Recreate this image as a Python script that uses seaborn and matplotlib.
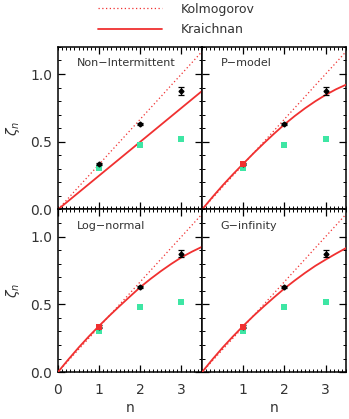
import matplotlib
matplotlib.use("Agg")
import matplotlib.pyplot as plt
import seaborn as sns
import pandas as pd
from matplotlib.ticker import MultipleLocator, FixedLocator
from matplotlib.lines import Line2D

sns.set_theme(style="white")
plt.rcParams['font.family'] = ['DejaVu Sans']
plt.rcParams['mathtext.fontset'] = 'dejavusans'

# ---- data ----
panel_names = ["Non\u2212Intermittent", "P\u2212model", "Log\u2212normal", "G\u2212infinity"]
n_obs = [1, 2, 3]
zeta_black = [0.335, 0.630, 0.875]
zeta_black_err = [0.010, 0.006, 0.028]
zeta_green = [0.305, 0.478, 0.518]

n_curve = [0.0, 0.25, 0.5, 0.75, 1.0, 1.25, 1.5, 1.75, 2.0, 2.25, 2.5, 2.75, 3.0, 3.25, 3.5]
kolmogorov = [0.0, 0.083, 0.167, 0.250, 0.333, 0.417, 0.500, 0.583, 0.667,
              0.750, 0.833, 0.917, 1.000, 1.083, 1.167]
kraichnan_nonint = [0.0, 0.0625, 0.125, 0.1875, 0.250, 0.3125, 0.375, 0.4375, 0.500,
                    0.5625, 0.625, 0.6875, 0.750, 0.8125, 0.875]
kraichnan_pmodel = [0.0, 0.091, 0.178, 0.260, 0.338, 0.415, 0.489, 0.560, 0.628,
                    0.690, 0.747, 0.799, 0.846, 0.887, 0.922]
kraichnan_lognormal = [0.0, 0.092, 0.180, 0.263, 0.341, 0.416, 0.488, 0.558, 0.627,
                       0.688, 0.745, 0.798, 0.847, 0.888, 0.925]
kraichnan_ginf = [0.0, 0.093, 0.181, 0.263, 0.341, 0.415, 0.485, 0.552, 0.617,
                  0.676, 0.732, 0.784, 0.830, 0.874, 0.916]
model_curves = [kraichnan_nonint, kraichnan_pmodel, kraichnan_lognormal, kraichnan_ginf]
red_marker_n = [1]
red_marker_zeta = [0.336]

x_ticks_left = [0, 1, 2, 3]
x_ticks_right = [1, 2, 3]
y_ticks = [0.0, 0.5, 1.0]

RED = "#f03030"
GREEN = "#3ee6a4"
TXT = "#333333"

fig = plt.figure(figsize=(3.49, 4.19), dpi=100)
fig.patch.set_facecolor("white")

left, right, top, bottom = 0.166, 0.992, 0.888, 0.112
w = (right - left) / 2
h = (top - bottom) / 2
positions = [(left, bottom + h), (left + w, bottom + h), (left, bottom), (left + w, bottom)]

for i, (name, curve, pos) in enumerate(zip(panel_names, model_curves, positions)):
    ax = fig.add_axes([pos[0], pos[1], w, h])
    ax.set_facecolor("white")
    dfc = pd.DataFrame({"n": n_curve, "kol": kolmogorov, "mod": curve})
    sns.lineplot(data=dfc, x="n", y="kol", ax=ax, color=RED, lw=0.9,
                 linestyle=(0, (1, 2)), zorder=2)
    sns.lineplot(data=dfc, x="n", y="mod", ax=ax, color=RED, lw=1.3, zorder=3)
    dfg = pd.DataFrame({"n": n_obs, "z": zeta_green})
    sns.scatterplot(data=dfg, x="n", y="z", ax=ax, color=GREEN, marker="s",
                    s=14, edgecolor=GREEN, linewidth=0, zorder=4)
    ax.errorbar(n_obs, zeta_black, yerr=zeta_black_err, fmt="D", color="black",
                ms=2.5, capsize=2.5, elinewidth=0.9, capthick=0.9, zorder=5)
    if i > 0:
        sns.scatterplot(x=red_marker_n, y=red_marker_zeta, ax=ax, color=RED,
                        marker="s", s=18, linewidth=0, zorder=6)
    ax.set_xlim(0, 3.5)
    ax.set_ylim(0, 1.2)
    ax.set_xlabel("")
    ax.set_ylabel("")
    ax.text(0.13, 0.93, name, transform=ax.transAxes, ha="left", va="top",
            fontsize=8, color=TXT)
    if i == 2:
        ax.xaxis.set_major_locator(FixedLocator(x_ticks_left))
    else:
        ax.xaxis.set_major_locator(FixedLocator(x_ticks_right))
    ax.xaxis.set_minor_locator(MultipleLocator(0.1))
    ax.yaxis.set_major_locator(FixedLocator(y_ticks))
    ax.yaxis.set_minor_locator(MultipleLocator(0.1))
    ax.tick_params(which="both", direction="in", top=True, right=True,
                   bottom=True, left=True, color="black")
    ax.tick_params(which="major", length=5, width=0.9)
    ax.tick_params(which="minor", length=2.5, width=0.7)
    ax.tick_params(axis="x", pad=8, labelsize=10, labelcolor=TXT)
    ax.tick_params(axis="y", pad=4, labelsize=10, labelcolor=TXT)
    if i in (0, 1):
        ax.tick_params(axis="x", labelbottom=False)
    else:
        ax.set_xlabel("n", fontsize=10, color=TXT, labelpad=3)
    if i in (1, 3):
        ax.tick_params(axis="y", labelleft=False)
    else:
        ax.set_yticklabels(["0.0", "0.5", "1.0"])
        ax.set_ylabel(r"$\zeta_n$", fontsize=10, color=TXT, labelpad=6)
    for sp in ax.spines.values():
        sp.set_color("black")
        sp.set_linewidth(1.1)
        sp.set_visible(True)

handles = [Line2D([], [], color=RED, lw=0.9, linestyle=(0, (1, 2))),
           Line2D([], [], color=RED, lw=1.3)]
fig.legend(handles, ["Kolmogorov", "Kraichnan"], loc="upper left",
           bbox_to_anchor=(0.248, 1.02), frameon=False, fontsize=9,
           handlelength=5.1, handletextpad=1.5, labelspacing=0.6,
           labelcolor=TXT)

fig.savefig("out.png", dpi=100, facecolor="white")
